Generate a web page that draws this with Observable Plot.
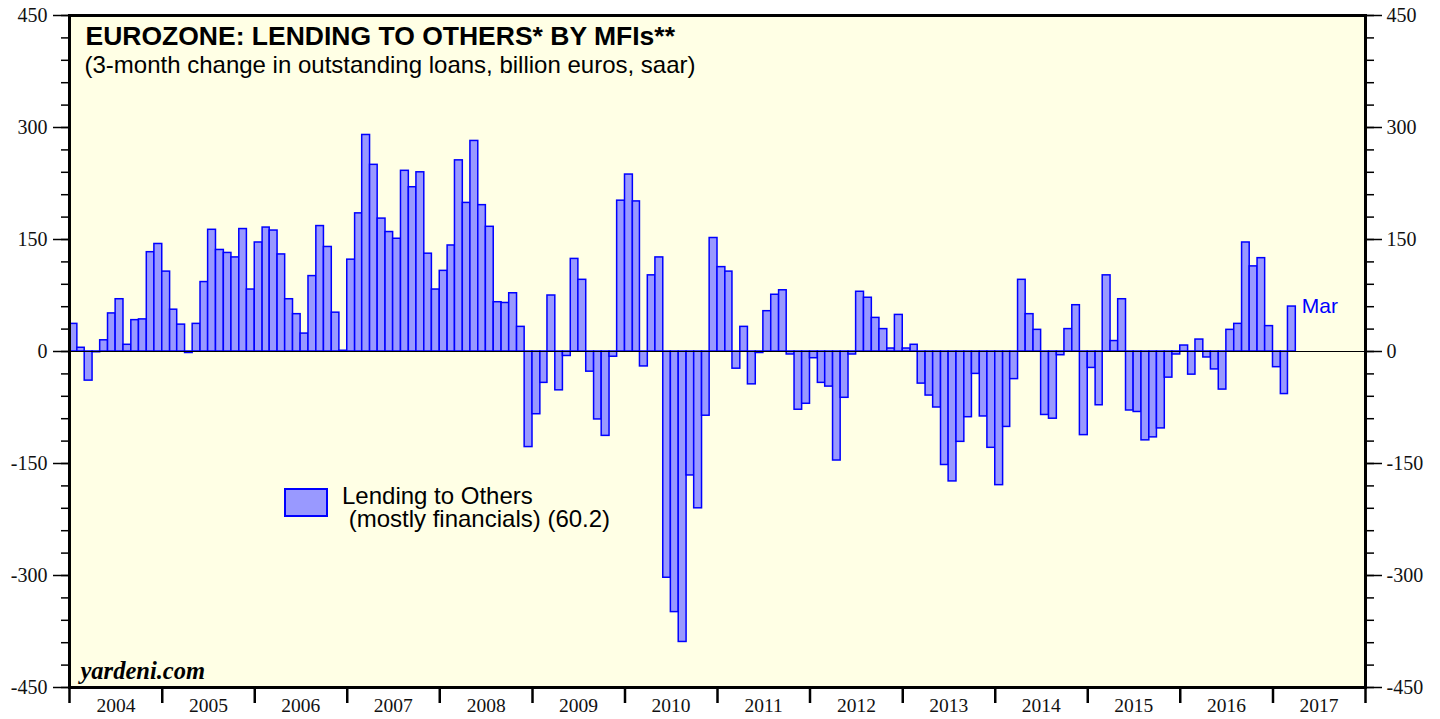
<!DOCTYPE html>
<html>
<head>
<meta charset="utf-8">
<script src="https://cdn.jsdelivr.net/npm/d3@7"></script>
<script src="https://cdn.jsdelivr.net/npm/@observablehq/plot@0.6"></script>
<style>
  body { margin: 0; background: #ffffff; }
  #wrap { position: relative; width: 1440px; height: 719px; overflow: hidden; }
  #legend-key { position: absolute; left: 284px; top: 488px; width: 40px; height: 25px;
    background: #9999ff; border: 2px solid #0000ff; }
  #legend-text { position: absolute; left: 342px; top: 483.5px; font-family: "Liberation Sans", Arial, sans-serif;
    font-size: 24px; line-height: 23.5px; white-space: pre; color: #000; }
</style>
</head>
<body>
<div id="wrap"></div>
<script>
// ---- Data (3-month change, billion euros, saar), monthly from Jan 2004 ----
const startYear = 2004;
const startMonth = 0; // January
const values = [
  // 2004
  37, 5, -39, -1, 15, 51, 70, 9, 42, 43, 133, 144,
  // 2005
  107, 56, 36, -2, 37, 93, 163, 136, 132, 126, 164, 83,
  // 2006
  146, 166, 162, 130, 70, 50, 24, 101, 168, 140, 52, 1,
  // 2007
  123, 185, 290, 250, 178, 160, 151, 242, 220, 240, 131, 83,
  // 2008
  108, 142, 256, 199, 282, 196, 167, 66, 65, 78, 33, -128,
  // 2009
  -84, -42, 75, -52, -6, 124, 96, -27, -91, -113, -7, 202,
  // 2010
  237, 201, -20, 102, 126, -303, -349, -389, -166, -210, -86, 152,
  // 2011
  113, 107, -23, 33, -44, -2, 54, 76, 82, -4, -78, -70,
  // 2012
  -9, -42, -47, -146, -62, -4, 80, 72, 45, 30, 4, 49,
  // 2013
  4, 9, -43, -59, -75, -152, -174, -121, -88, -30, -87, -129,
  // 2014
  -179, -101, -37, 96, 50, 29, -85, -90, -5, 30, 62, -112,
  // 2015
  -22, -72, 102, 14, 70, -79, -81, -119, -115, -103, -35, -4,
  // 2016
  8, -31, 16, -8, -24, -51, 29, 37, 146, 114, 125, 34,
  // 2017
  -21, -57, 60.2
];
const yearLabels = ["2004","2005","2006","2007","2008","2009","2010","2011","2012","2013","2014","2015","2016","2017"];
const yMajorTicks = [-450, -300, -150, 0, 150, 300, 450];
const yMinorTicks = [-450,-420,-390,-360,-330,-300,-270,-240,-210,-180,-150,-120,-90,-60,-30,0,30,60,90,120,150,180,210,240,270,300,330,360,390,420,450];
const titleText = "EUROZONE: LENDING TO OTHERS* BY MFIs**";
const subtitleText = "(3-month change in outstanding loans, billion euros, saar)";
const sourceText = "yardeni.com";
const legendLines = ["Lending to Others", " (mostly financials) (60.2)"];
const lastLabel = "Mar";

// ---- Build table ----
const data = values.map((v, i) => ({
  date1: new Date(Date.UTC(startYear, startMonth + i, 1)),
  date2: new Date(Date.UTC(startYear, startMonth + i + 1, 1)),
  value: v
}));
const yearStarts = yearLabels.map(y => new Date(Date.UTC(+y, 0, 1)));
yearStarts.push(new Date(Date.UTC(+yearLabels[yearLabels.length - 1] + 1, 0, 1)));
const yearMids = yearLabels.map(y => new Date(Date.UTC(+y, 6, 2)));
const xDomain = [yearStarts[0], yearStarts[yearStarts.length - 1]];

const serif = "'Liberation Serif', 'Times New Roman', Times, serif";
const sans = "'Liberation Sans', Arial, Helvetica, sans-serif";
const yFmt = d => String(d); // plain hyphen minus, as in the reference

const chart = Plot.plot({
  width: 1440,
  height: 719,
  marginLeft: 69,
  marginRight: 75,
  marginTop: 15,
  marginBottom: 32,
  x: { type: "utc", domain: xDomain },
  y: { domain: [-450, 450] },
  style: { background: "white", overflow: "visible" },
  marks: [
    Plot.frame({ fill: "#ffffe5", stroke: null }),
    Plot.rectY(data, { x1: "date1", x2: "date2", y: "value", fill: "#9999ff", stroke: "#0000ff", strokeWidth: 1.5 }),
    Plot.ruleY([0], { stroke: "black", strokeWidth: 1.2 }),
    Plot.frame({ stroke: "black", strokeWidth: 3 }),
    // left axis
    Plot.axisY({ anchor: "left", ticks: yMinorTicks, tickSize: 8, tickFormat: () => "", strokeWidth: 1.5, label: null }),
    Plot.axisY({ anchor: "left", ticks: yMajorTicks, tickSize: 16, tickPadding: 6, strokeWidth: 1.5, tickFormat: yFmt,
      fontSize: 20, fontFamily: serif, fill: "#111", label: null }),
    // right axis
    Plot.axisY({ anchor: "right", ticks: yMinorTicks, tickSize: 8, tickFormat: () => "", strokeWidth: 1.5, label: null }),
    Plot.axisY({ anchor: "right", ticks: yMajorTicks, tickSize: 16, tickPadding: 5, strokeWidth: 1.5, tickFormat: yFmt,
      fontSize: 20, fontFamily: serif, fill: "#111", label: null }),
    // x axis
    Plot.axisX({ anchor: "bottom", ticks: yearStarts, tickSize: 16, tickFormat: () => "", strokeWidth: 2.5, label: null }),
    Plot.axisX({ anchor: "bottom", ticks: yearMids, tickSize: 0, tickPadding: 11,
      tickFormat: d => yearLabels[yearMids.findIndex(m => +m === +d)],
      fontSize: 19.5, fontFamily: serif, fill: "#111", label: null }),
    // texts
    Plot.text([titleText], { frameAnchor: "top-left", textAnchor: "start", lineAnchor: "bottom", dx: 16, dy: 29,
      fontSize: 26.5, fontWeight: "bold", fontFamily: sans, fill: "#000" }),
    Plot.text([subtitleText], { frameAnchor: "top-left", textAnchor: "start", lineAnchor: "bottom", dx: 15, dy: 57,
      fontSize: 24, fontFamily: sans, fill: "#000" }),
    Plot.text([sourceText], { frameAnchor: "bottom-left", textAnchor: "start", lineAnchor: "bottom", dx: 11, dy: -9,
      fontSize: 24.5, fontWeight: "bold", fontStyle: "italic", fontFamily: serif, fill: "#000" }),
    Plot.text([data[data.length - 1]], { x: "date2", y: "value", text: () => lastLabel, dx: 6, textAnchor: "start",
      lineAnchor: "middle", fill: "#0000ff", fontSize: 21, fontFamily: sans })
  ]
});

const wrap = document.getElementById("wrap");
wrap.appendChild(chart);
const key = document.createElement("div");
key.id = "legend-key";
wrap.appendChild(key);
const lt = document.createElement("div");
lt.id = "legend-text";
lt.textContent = legendLines.join("\n");
wrap.appendChild(lt);
</script>
</body>
</html>
